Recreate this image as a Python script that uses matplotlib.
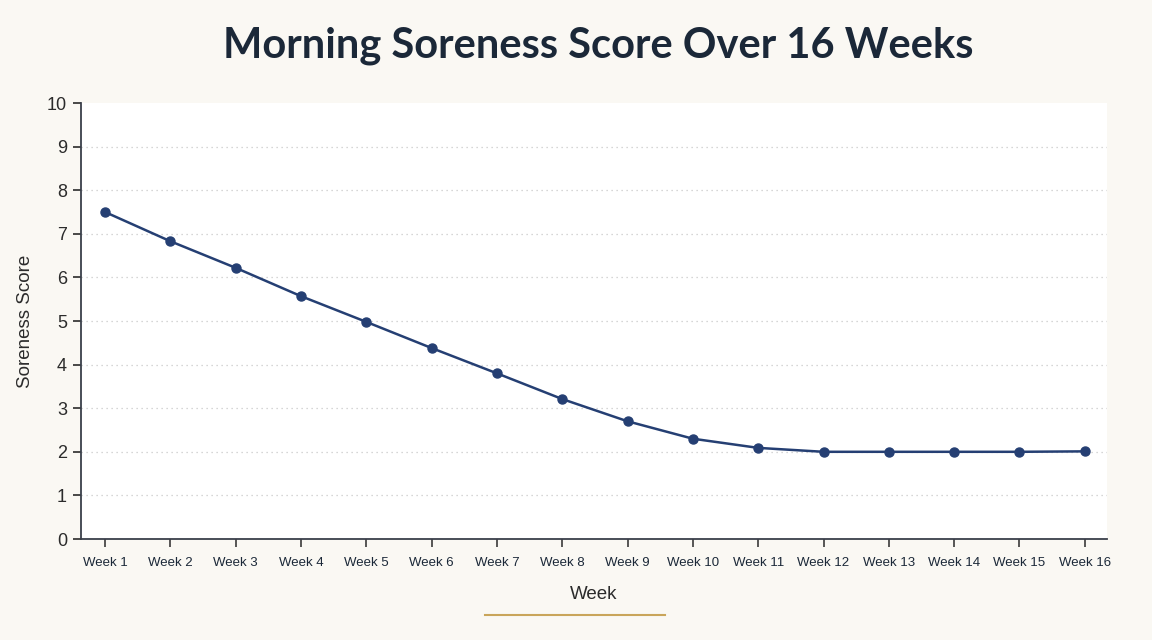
import matplotlib
matplotlib.use("Agg")
import matplotlib.pyplot as plt
from matplotlib.lines import Line2D

plt.rcParams['font.family'] = ['Liberation Sans', 'DejaVu Sans']

weeks = ["Week %d" % i for i in range(1, 17)]
week_num = list(range(1, 17))
soreness = [7.5, 6.83, 6.22, 5.57, 4.98, 4.38, 3.8, 3.21, 2.7, 2.3, 2.09, 2.0, 2.0, 2.0, 2.0, 2.01]

bg = "#faf8f3"
navy = "#253f73"
dark = "#1b2838"

fig = plt.figure(figsize=(11.52, 6.4), dpi=100, facecolor=bg)
ax = fig.add_axes([81/1152, 1-539/640, (1107-81)/1152, (539-103)/640])
ax.set_facecolor("white")

ax.plot(week_num, soreness, color=navy, lw=1.8, marker="o", ms=6.5, zorder=3)

ax.set_xlim(0.633, 16.34)
ax.set_ylim(0, 10)
ax.set_yticks(range(0, 11))
ax.set_xticks(week_num)
ax.set_xticklabels(weeks, fontsize=9.5, color=dark)
ax.tick_params(axis="y", labelsize=13, colors="#2b2b2b", length=6, width=1.2, pad=4)
ax.tick_params(axis="x", length=6, width=1.2, colors="#3a3a3a", labelcolor=dark, pad=7)

ax.grid(axis="y", linestyle=(0, (1, 3)), color="#c9c9c9", lw=0.9)
ax.get_ygridlines()[-1].set_visible(False)
ax.set_axisbelow(True)

for s in ["top", "right"]:
    ax.spines[s].set_visible(False)
for s in ["left", "bottom"]:
    ax.spines[s].set_color("#3a3f4a")
    ax.spines[s].set_linewidth(1.3)

ax.set_ylabel("Soreness Score", fontsize=13.5, color="#2b2b2b", labelpad=9)
ax.set_xlabel("Week", fontsize=13.5, color="#2b2b2b", labelpad=12)

fig.text(0.519, 0.929, "Morning Soreness Score Over 16 Weeks", ha="center", va="center",
         fontsize=30, fontweight="bold", color=dark, family="Lato")

fig.add_artist(Line2D([485/1152, 665/1152], [1-615/640, 1-615/640],
                      transform=fig.transFigure, color="#c9a55a", lw=1.5))

fig.savefig("out.png", dpi=100, facecolor=bg)
